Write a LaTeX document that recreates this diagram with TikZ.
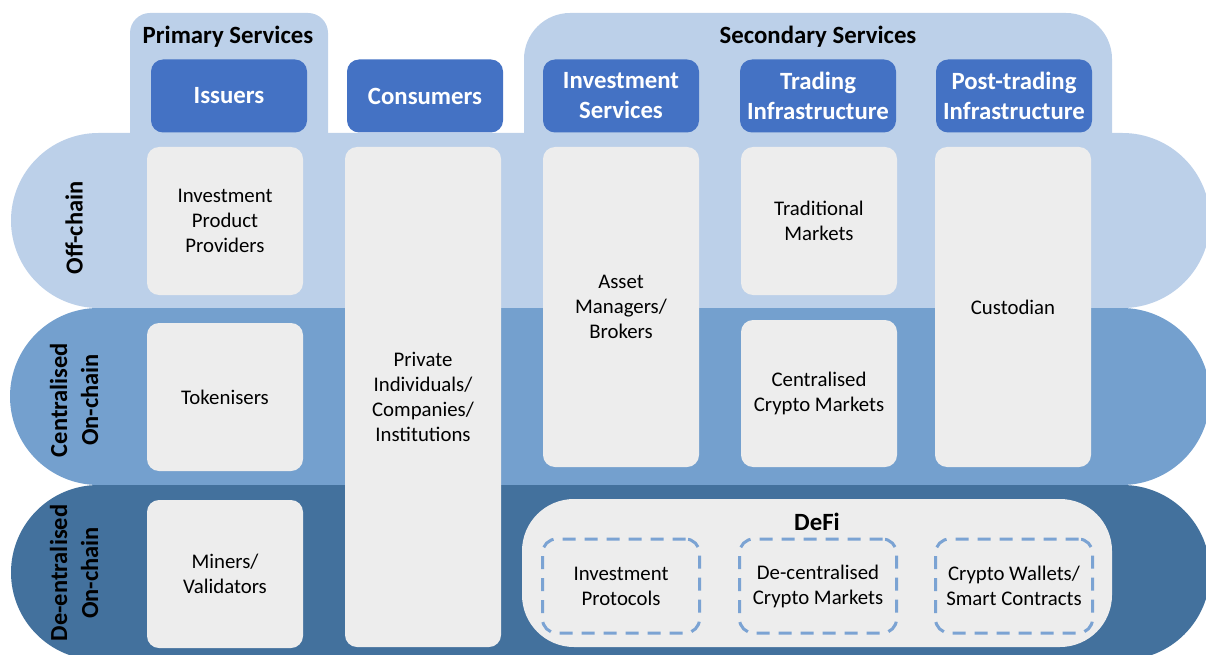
\documentclass[tikz,border=0pt]{standalone}
\usepackage{fontspec}
\setmainfont{Carlito}
\definecolor{offc}{HTML}{BCD0E9}
\definecolor{cenc}{HTML}{74A0CE}
\definecolor{decc}{HTML}{43719D}
\definecolor{hdrc}{HTML}{4472C4}
\definecolor{cellc}{HTML}{EDEDED}
\definecolor{dashc}{HTML}{7BA3D3}
\tikzset{
  hdr/.style={fill=hdrc, rounded corners=12pt, text=white, inner sep=0pt,
    minimum width=156pt, minimum height=73pt, align=center,
    font=\fontsize{24.8}{30}\selectfont\bfseries},
  cell/.style={fill=cellc, rounded corners=12pt, inner sep=0pt, align=center,
    minimum width=156pt, font=\fontsize{20.8}{25}\selectfont},
  dcell/.style={draw=dashc, line width=3pt, dash pattern=on 13pt off 9pt,
    rounded corners=14pt, inner sep=0pt, align=center,
    minimum width=157pt, minimum height=94pt, font=\fontsize{20.8}{25}\selectfont},
  title/.style={inner sep=0pt, align=center, font=\fontsize{24.8}{30}\selectfont\bfseries},
  rowlab/.style={title, rotate=90, font=\fontsize{24.5}{31}\selectfont\bfseries},
}
\begin{document}
\begin{tikzpicture}[x=1pt,y=-1pt]
\useasboundingbox (0,0) rectangle (1206,655);
\clip (0,0) rectangle (1206,655);
% tabs
\fill[offc, rounded corners=20pt] (130,13) rectangle (328,170);
\fill[offc, rounded corners=46pt] (524,13) rectangle (1112,200);
% bands
\fill[offc, rounded corners=87.5pt] (11,133) rectangle (1210,308);
\fill[cenc, rounded corners=88.5pt] (10,308) rectangle (1210,485);
\fill[decc, rounded corners=87.5pt] (11,485) rectangle (1210,660);
% titles
\node[title] (prim) at (228,37) {Primary Services};
\node[title] (sec) at (818,37) {Secondary Services};
% headers
\node[hdr] (iss) at (229,96) {Issuers};
\node[hdr] (con) at (425,96) {Consumers};
\node[hdr] (inv) at (621,96) {Investment\\Services};
\node[hdr] (trd) at (818,96) {Trading\\Infrastructure};
\node[hdr] (pst) at (1014,96) {Post-trading\\Infrastructure};
% row labels
\node[rowlab] (off) at (74,228) {Off-chain};
\node[rowlab] (cen) at (74,400) {Centralised\\On-chain};
\node[rowlab] (dec) at (74,573) {De-entralised\\On-chain};
% cells
\node[cell, minimum height=148pt] (ipp) at (225,221) {Investment\\Product\\Providers};
\node[cell, minimum height=148pt] (tok) at (225,397) {Tokenisers};
\node[cell, minimum height=148pt] (min) at (225,574) {Miners/\\Validators};
\node[cell, minimum height=500pt] (prv) at (423,397) {Private\\Individuals/\\Companies/\\Institutions};
\node[cell, minimum height=320pt] (ast) at (621,307) {Asset\\Managers/\\Brokers};
\node[cell, minimum height=148pt] (trm) at (819,221) {Traditional\\Markets};
\node[cell, minimum height=147pt] (ccm) at (819,393.5) {Centralised\\Crypto Markets};
\node[cell, minimum height=320pt] (cus) at (1013,307) {Custodian};
% DeFi
\node[cell, rounded corners=52pt, minimum width=590pt, minimum height=148pt] (defi) at (817,573) {};
\node[title] (defit) at (817,522) {DeFi};
\node[dcell] (ipr) at (621,586) {Investment\\Protocols};
\node[dcell] (dcm) at (818,586) {De-centralised\\Crypto Markets};
\node[dcell] (cws) at (1014,586) {Crypto Wallets/\\Smart Contracts};
\end{tikzpicture}
\end{document}
